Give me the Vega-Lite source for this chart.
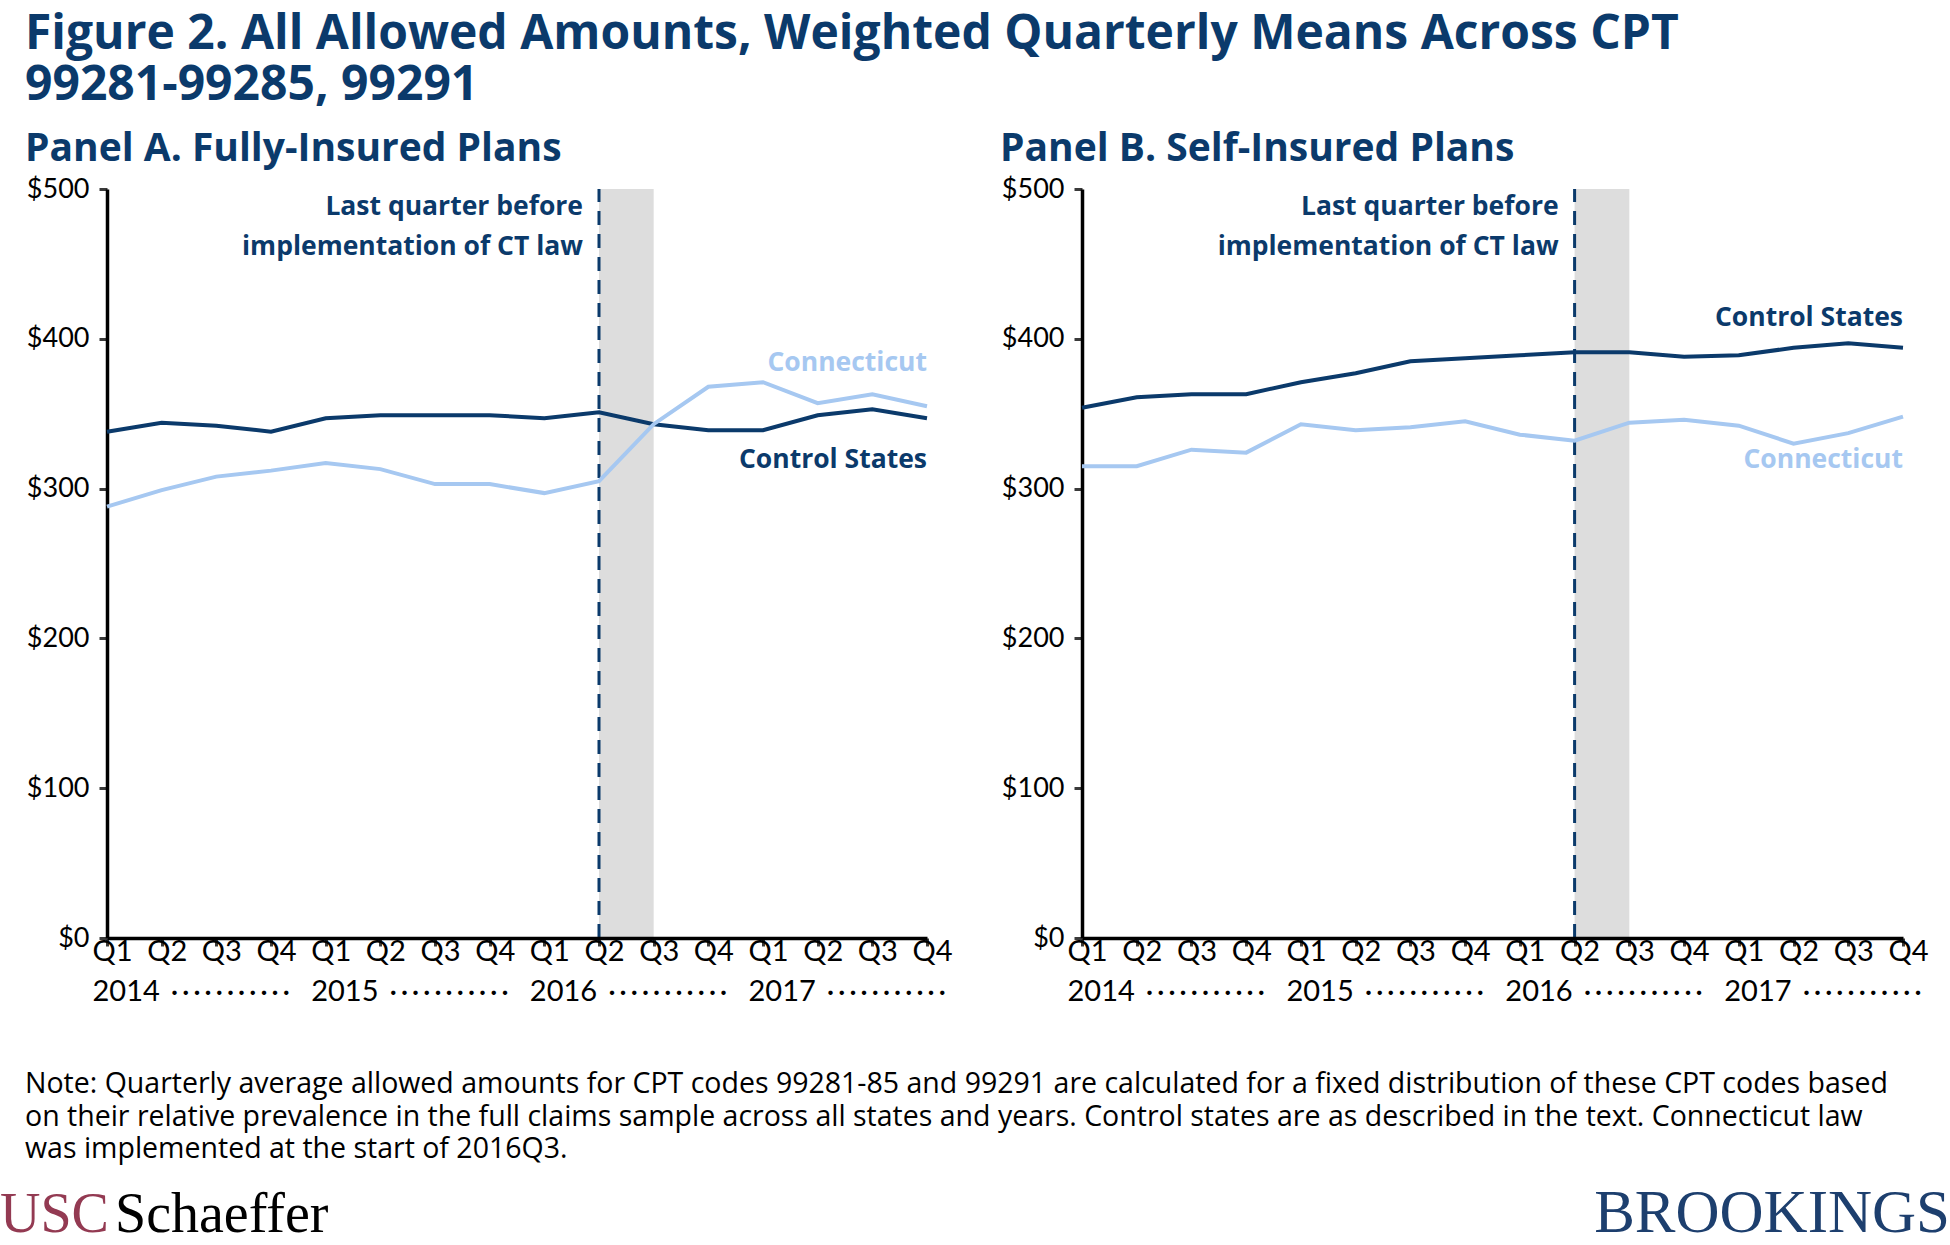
{
  "$schema": "https://vega.github.io/schema/vega-lite/v6.json",
  "background": "white",
  "padding": {"top": 11, "left": 0, "right": 0, "bottom": 0},
  "bounds": "flush",
  "spacing": 155,
  "title": {
    "text": ["Figure 2. All Allowed Amounts, Weighted Quarterly Means Across CPT", "99281-99285, 99291"],
    "anchor": "start", "frame": "group", "dx": -82,
    "font": "Open Sans", "fontSize": 48, "fontWeight": "bold", "color": "#0B3A6B",
    "lineHeight": 51, "offset": 20
  },
  "datasets": {
    "series": [
      {"panel": "A", "series": "Control States", "q": "2014Q1", "value": 338},
      {"panel": "A", "series": "Control States", "q": "2014Q2", "value": 344},
      {"panel": "A", "series": "Control States", "q": "2014Q3", "value": 342},
      {"panel": "A", "series": "Control States", "q": "2014Q4", "value": 338},
      {"panel": "A", "series": "Control States", "q": "2015Q1", "value": 347},
      {"panel": "A", "series": "Control States", "q": "2015Q2", "value": 349},
      {"panel": "A", "series": "Control States", "q": "2015Q3", "value": 349},
      {"panel": "A", "series": "Control States", "q": "2015Q4", "value": 349},
      {"panel": "A", "series": "Control States", "q": "2016Q1", "value": 347},
      {"panel": "A", "series": "Control States", "q": "2016Q2", "value": 351},
      {"panel": "A", "series": "Control States", "q": "2016Q3", "value": 343},
      {"panel": "A", "series": "Control States", "q": "2016Q4", "value": 339},
      {"panel": "A", "series": "Control States", "q": "2017Q1", "value": 339},
      {"panel": "A", "series": "Control States", "q": "2017Q2", "value": 349},
      {"panel": "A", "series": "Control States", "q": "2017Q3", "value": 353},
      {"panel": "A", "series": "Control States", "q": "2017Q4", "value": 347},
      {"panel": "A", "series": "Connecticut", "q": "2014Q1", "value": 288},
      {"panel": "A", "series": "Connecticut", "q": "2014Q2", "value": 299},
      {"panel": "A", "series": "Connecticut", "q": "2014Q3", "value": 308},
      {"panel": "A", "series": "Connecticut", "q": "2014Q4", "value": 312},
      {"panel": "A", "series": "Connecticut", "q": "2015Q1", "value": 317},
      {"panel": "A", "series": "Connecticut", "q": "2015Q2", "value": 313},
      {"panel": "A", "series": "Connecticut", "q": "2015Q3", "value": 303},
      {"panel": "A", "series": "Connecticut", "q": "2015Q4", "value": 303},
      {"panel": "A", "series": "Connecticut", "q": "2016Q1", "value": 297},
      {"panel": "A", "series": "Connecticut", "q": "2016Q2", "value": 305},
      {"panel": "A", "series": "Connecticut", "q": "2016Q3", "value": 343},
      {"panel": "A", "series": "Connecticut", "q": "2016Q4", "value": 368},
      {"panel": "A", "series": "Connecticut", "q": "2017Q1", "value": 371},
      {"panel": "A", "series": "Connecticut", "q": "2017Q2", "value": 357},
      {"panel": "A", "series": "Connecticut", "q": "2017Q3", "value": 363},
      {"panel": "A", "series": "Connecticut", "q": "2017Q4", "value": 355},
      {"panel": "B", "series": "Control States", "q": "2014Q1", "value": 354},
      {"panel": "B", "series": "Control States", "q": "2014Q2", "value": 361},
      {"panel": "B", "series": "Control States", "q": "2014Q3", "value": 363},
      {"panel": "B", "series": "Control States", "q": "2014Q4", "value": 363},
      {"panel": "B", "series": "Control States", "q": "2015Q1", "value": 371},
      {"panel": "B", "series": "Control States", "q": "2015Q2", "value": 377},
      {"panel": "B", "series": "Control States", "q": "2015Q3", "value": 385},
      {"panel": "B", "series": "Control States", "q": "2015Q4", "value": 387},
      {"panel": "B", "series": "Control States", "q": "2016Q1", "value": 389},
      {"panel": "B", "series": "Control States", "q": "2016Q2", "value": 391},
      {"panel": "B", "series": "Control States", "q": "2016Q3", "value": 391},
      {"panel": "B", "series": "Control States", "q": "2016Q4", "value": 388},
      {"panel": "B", "series": "Control States", "q": "2017Q1", "value": 389},
      {"panel": "B", "series": "Control States", "q": "2017Q2", "value": 394},
      {"panel": "B", "series": "Control States", "q": "2017Q3", "value": 397},
      {"panel": "B", "series": "Control States", "q": "2017Q4", "value": 394},
      {"panel": "B", "series": "Connecticut", "q": "2014Q1", "value": 315},
      {"panel": "B", "series": "Connecticut", "q": "2014Q2", "value": 315},
      {"panel": "B", "series": "Connecticut", "q": "2014Q3", "value": 326},
      {"panel": "B", "series": "Connecticut", "q": "2014Q4", "value": 324},
      {"panel": "B", "series": "Connecticut", "q": "2015Q1", "value": 343},
      {"panel": "B", "series": "Connecticut", "q": "2015Q2", "value": 339},
      {"panel": "B", "series": "Connecticut", "q": "2015Q3", "value": 341},
      {"panel": "B", "series": "Connecticut", "q": "2015Q4", "value": 345},
      {"panel": "B", "series": "Connecticut", "q": "2016Q1", "value": 336},
      {"panel": "B", "series": "Connecticut", "q": "2016Q2", "value": 332},
      {"panel": "B", "series": "Connecticut", "q": "2016Q3", "value": 344},
      {"panel": "B", "series": "Connecticut", "q": "2016Q4", "value": 346},
      {"panel": "B", "series": "Connecticut", "q": "2017Q1", "value": 342},
      {"panel": "B", "series": "Connecticut", "q": "2017Q2", "value": 330},
      {"panel": "B", "series": "Connecticut", "q": "2017Q3", "value": 337},
      {"panel": "B", "series": "Connecticut", "q": "2017Q4", "value": 348}
    ]
  },
  "hconcat": [
    {
      "width": 820, "height": 749,
      "title": {"text": "Panel A. Fully-Insured Plans", "anchor": "start", "frame": "group", "dx": -82, "offset": 6, "font": "Open Sans", "fontSize": 39, "fontWeight": "bold", "color": "#0B3A6B"},
      "layer": [
        {"data": {"values": [{"q": "2016Q2", "q_end": "2016Q3"}]}, "mark": {"type": "rect", "color": "#DDDDDD"},
         "encoding": {
           "x": {"field": "q", "type": "ordinal", "scale": {"type": "point", "padding": 0, "domain": ["2014Q1","2014Q2","2014Q3","2014Q4","2015Q1","2015Q2","2015Q3","2015Q4","2016Q1","2016Q2","2016Q3","2016Q4","2017Q1","2017Q2","2017Q3","2017Q4"]}, "axis": {"title": null}},
           "x2": {"field": "q_end"},
           "y": {"datum": 0, "type": "quantitative", "scale": {"domain": [0, 500], "nice": false}, "axis": {"title": null}},
           "y2": {"datum": 500}}},
        {"data": {"values": [{"q": "2016Q2"}]}, "mark": {"type": "rule", "color": "#0B3A6B", "strokeWidth": 3, "strokeDash": [14, 9]},
         "encoding": {
           "x": {"field": "q", "type": "ordinal", "scale": {"type": "point", "padding": 0, "domain": ["2014Q1","2014Q2","2014Q3","2014Q4","2015Q1","2015Q2","2015Q3","2015Q4","2016Q1","2016Q2","2016Q3","2016Q4","2017Q1","2017Q2","2017Q3","2017Q4"]}, "axis": {"title": null}},
           "y": {"datum": 0, "type": "quantitative", "scale": {"domain": [0, 500], "nice": false}, "axis": {"title": null}},
           "y2": {"datum": 500}}},
        {"data": {"name": "series"}, "transform": [{"filter": "datum.panel === 'A'"}],
         "mark": {"type": "line", "strokeWidth": 4},
         "encoding": {
           "x": {"field": "q", "type": "ordinal",
             "scale": {"type": "point", "padding": 0, "domain": ["2014Q1","2014Q2","2014Q3","2014Q4","2015Q1","2015Q2","2015Q3","2015Q4","2016Q1","2016Q2","2016Q3","2016Q4","2017Q1","2017Q2","2017Q3","2017Q4"]},
             "axis": {"title": null, "labelAngle": 0, "labelAlign": "left", "labelOffset": -15, "labelPadding": 5, "labelFontSize": 29, "labelLineHeight": 40, "labelLimit": 600, "labelFlush": false, "labelOverlap": false, "labelBound": false,
               "labelExpr": "slice(datum.value, 4) === 'Q1' ? [slice(datum.value, 4), slice(datum.value, 0, 4) + '  \u2009\u00b7\u200a\u200a\u00b7\u200a\u200a\u00b7\u200a\u200a\u00b7\u200a\u200a\u00b7\u200a\u200a\u00b7\u200a\u200a\u00b7\u200a\u200a\u00b7\u200a\u200a\u00b7\u200a\u200a\u00b7\u200a\u200a\u00b7'] : [slice(datum.value, 4), '']"}},
           "y": {"field": "value", "type": "quantitative",
             "scale": {"domain": [0, 500], "nice": false},
             "axis": {"title": null, "values": [0, 100, 200, 300, 400, 500], "labelExpr": "'$' + datum.value", "labelPadding": 10}},
           "color": {"field": "series", "type": "nominal", "scale": {"domain": ["Connecticut", "Control States"], "range": ["#A6C8F1", "#0B3A6B"]}, "legend": null}}},
        {"data": {"values": [{}]}, "mark": {"type": "text", "align": "right", "baseline": "middle", "font": "Open Sans", "fontSize": 26.5, "fontWeight": "bold", "color": "#A6C8F1"},
         "encoding": {
           "x": {"datum": "2017Q4", "type": "ordinal", "axis": {"title": null}},
           "y": {"datum": 384, "type": "quantitative", "axis": {"title": null}},
           "text": {"value": "Connecticut"}}},
        {"data": {"values": [{}]}, "mark": {"type": "text", "align": "right", "baseline": "middle", "font": "Open Sans", "fontSize": 26.5, "fontWeight": "bold", "color": "#0B3A6B"},
         "encoding": {
           "x": {"datum": "2017Q4", "type": "ordinal", "axis": {"title": null}},
           "y": {"datum": 319, "type": "quantitative", "axis": {"title": null}},
           "text": {"value": "Control States"}}},
        {"data": {"values": [{}]}, "mark": {"type": "text", "align": "right", "baseline": "middle", "dx": -16, "lineHeight": 40, "font": "Open Sans", "fontSize": 26.5, "fontWeight": "bold", "color": "#0B3A6B"},
         "encoding": {
           "x": {"datum": "2016Q2", "type": "ordinal", "axis": {"title": null}},
           "y": {"datum": 488, "type": "quantitative", "axis": {"title": null}},
           "text": {"value": ["Last quarter before", "implementation of CT law"]}}},
        {"data": {"values": [{}]}, "mark": {"type": "text", "align": "left", "baseline": "alphabetic", "lineHeight": 32.5, "font": "Open Sans", "fontSize": 28.5, "color": "#000000"},
         "encoding": {"x": {"value": -82}, "y": {"value": 904}, "text": {"value": ["Note: Quarterly average allowed amounts for CPT codes 99281-85 and 99291 are calculated for a fixed distribution of these CPT codes based", "on their relative prevalence in the full claims sample across all states and years. Control states are as described in the text. Connecticut law", "was implemented at the start of 2016Q3."]}}},
        {"data": {"values": [{}]}, "mark": {"type": "text", "align": "left", "baseline": "alphabetic", "font": "Liberation Serif", "fontSize": 56, "color": "#933A52"},
         "encoding": {"x": {"value": -107}, "y": {"value": 1043}, "text": {"value": "USC"}}},
        {"data": {"values": [{}]}, "mark": {"type": "text", "align": "left", "baseline": "alphabetic", "font": "Liberation Serif", "fontSize": 56, "color": "#000000"},
         "encoding": {"x": {"value": 8}, "y": {"value": 1043}, "text": {"value": "Schaeffer"}}}
      ]
    },
    {
      "width": 821, "height": 749,
      "title": {"text": "Panel B. Self-Insured Plans", "anchor": "start", "frame": "group", "dx": -82, "offset": 6, "font": "Open Sans", "fontSize": 39, "fontWeight": "bold", "color": "#0B3A6B"},
      "layer": [
        {"data": {"values": [{"q": "2016Q2", "q_end": "2016Q3"}]}, "mark": {"type": "rect", "color": "#DDDDDD"},
         "encoding": {
           "x": {"field": "q", "type": "ordinal", "scale": {"type": "point", "padding": 0, "domain": ["2014Q1","2014Q2","2014Q3","2014Q4","2015Q1","2015Q2","2015Q3","2015Q4","2016Q1","2016Q2","2016Q3","2016Q4","2017Q1","2017Q2","2017Q3","2017Q4"]}, "axis": {"title": null}},
           "x2": {"field": "q_end"},
           "y": {"datum": 0, "type": "quantitative", "scale": {"domain": [0, 500], "nice": false}, "axis": {"title": null}},
           "y2": {"datum": 500}}},
        {"data": {"values": [{"q": "2016Q2"}]}, "mark": {"type": "rule", "color": "#0B3A6B", "strokeWidth": 3, "strokeDash": [14, 9]},
         "encoding": {
           "x": {"field": "q", "type": "ordinal", "scale": {"type": "point", "padding": 0, "domain": ["2014Q1","2014Q2","2014Q3","2014Q4","2015Q1","2015Q2","2015Q3","2015Q4","2016Q1","2016Q2","2016Q3","2016Q4","2017Q1","2017Q2","2017Q3","2017Q4"]}, "axis": {"title": null}},
           "y": {"datum": 0, "type": "quantitative", "scale": {"domain": [0, 500], "nice": false}, "axis": {"title": null}},
           "y2": {"datum": 500}}},
        {"data": {"name": "series"}, "transform": [{"filter": "datum.panel === 'B'"}],
         "mark": {"type": "line", "strokeWidth": 4},
         "encoding": {
           "x": {"field": "q", "type": "ordinal",
             "scale": {"type": "point", "padding": 0, "domain": ["2014Q1","2014Q2","2014Q3","2014Q4","2015Q1","2015Q2","2015Q3","2015Q4","2016Q1","2016Q2","2016Q3","2016Q4","2017Q1","2017Q2","2017Q3","2017Q4"]},
             "axis": {"title": null, "labelAngle": 0, "labelAlign": "left", "labelOffset": -15, "labelPadding": 5, "labelFontSize": 29, "labelLineHeight": 40, "labelLimit": 600, "labelFlush": false, "labelOverlap": false, "labelBound": false,
               "labelExpr": "slice(datum.value, 4) === 'Q1' ? [slice(datum.value, 4), slice(datum.value, 0, 4) + '  \u2009\u00b7\u200a\u200a\u00b7\u200a\u200a\u00b7\u200a\u200a\u00b7\u200a\u200a\u00b7\u200a\u200a\u00b7\u200a\u200a\u00b7\u200a\u200a\u00b7\u200a\u200a\u00b7\u200a\u200a\u00b7\u200a\u200a\u00b7'] : [slice(datum.value, 4), '']"}},
           "y": {"field": "value", "type": "quantitative",
             "scale": {"domain": [0, 500], "nice": false},
             "axis": {"title": null, "values": [0, 100, 200, 300, 400, 500], "labelExpr": "'$' + datum.value", "labelPadding": 10}},
           "color": {"field": "series", "type": "nominal", "scale": {"domain": ["Connecticut", "Control States"], "range": ["#A6C8F1", "#0B3A6B"]}, "legend": null}}},
        {"data": {"values": [{}]}, "mark": {"type": "text", "align": "right", "baseline": "middle", "font": "Open Sans", "fontSize": 26.5, "fontWeight": "bold", "color": "#0B3A6B"},
         "encoding": {
           "x": {"datum": "2017Q4", "type": "ordinal", "axis": {"title": null}},
           "y": {"datum": 414, "type": "quantitative", "axis": {"title": null}},
           "text": {"value": "Control States"}}},
        {"data": {"values": [{}]}, "mark": {"type": "text", "align": "right", "baseline": "middle", "font": "Open Sans", "fontSize": 26.5, "fontWeight": "bold", "color": "#A6C8F1"},
         "encoding": {
           "x": {"datum": "2017Q4", "type": "ordinal", "axis": {"title": null}},
           "y": {"datum": 319, "type": "quantitative", "axis": {"title": null}},
           "text": {"value": "Connecticut"}}},
        {"data": {"values": [{}]}, "mark": {"type": "text", "align": "right", "baseline": "middle", "dx": -16, "lineHeight": 40, "font": "Open Sans", "fontSize": 26.5, "fontWeight": "bold", "color": "#0B3A6B"},
         "encoding": {
           "x": {"datum": "2016Q2", "type": "ordinal", "axis": {"title": null}},
           "y": {"datum": 488, "type": "quantitative", "axis": {"title": null}},
           "text": {"value": ["Last quarter before", "implementation of CT law"]}}},
        {"data": {"values": [{}]}, "mark": {"type": "text", "align": "right", "baseline": "alphabetic", "font": "Liberation Serif", "fontSize": 61, "color": "#1D3F6E"},
         "encoding": {"x": {"value": 868}, "y": {"value": 1043}, "text": {"value": "BROOKINGS"}}}
      ]
    }
  ],
  "config": {
    "view": {"stroke": null},
    "font": "Lato",
    "axis": {"grid": false, "domainColor": "#000000", "domainWidth": 3.5, "tickColor": "#3A3A3A", "tickWidth": 3, "tickSize": 8,
      "labelFont": "Lato", "labelFontSize": 27, "labelColor": "#000000"}
  }
}
